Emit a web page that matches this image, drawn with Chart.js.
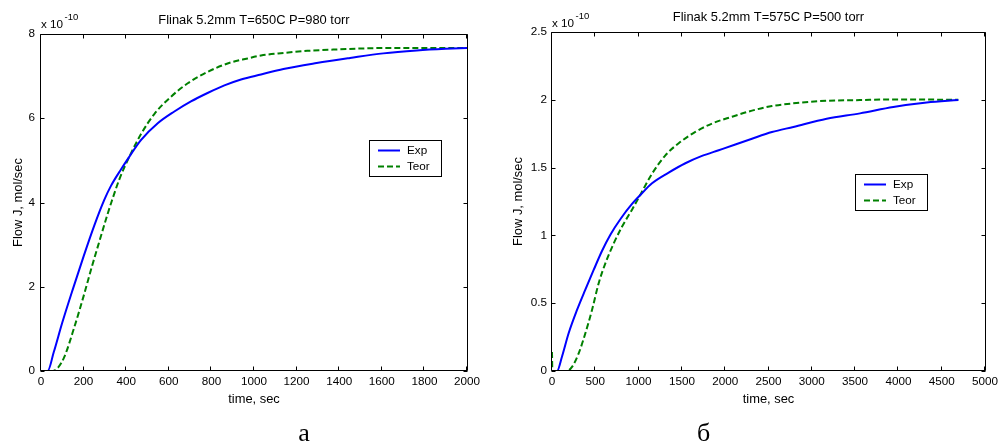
<!DOCTYPE html>
<html>
<head>
<meta charset="utf-8">
<script src="https://cdn.jsdelivr.net/npm/chart.js@4/dist/chart.umd.min.js"></script>
<style>
html,body{margin:0;padding:0;background:#fff;overflow:hidden;}
#wrap{position:relative;width:1001px;height:443px;}
canvas{position:absolute;top:0;}
#c1{left:0;}
#c2{left:500px;}
</style>
</head>
<body>
<div id="wrap">
<canvas id="c1" width="500" height="443"></canvas>
<canvas id="c2" width="501" height="443"></canvas>
</div>
<script>
// ---- Panel а : Flinak 5.2mm T=650C P=980 torr (flux in units of 1e-10 mol/sec)
const titleA = 'Flinak 5.2mm T=650C P=980 torr';
const timeExpA  = [0, 31, 60, 100, 150, 200, 250, 297, 329, 376, 415, 469, 548, 626, 704, 782, 861, 939, 1033, 1138, 1294, 1451, 1607, 1764, 1900, 2000];
const fluxExpA  = [0, 0, 0.45, 1.15, 1.95, 2.72, 3.45, 4.06, 4.40, 4.79, 5.09, 5.48, 5.88, 6.16, 6.40, 6.60, 6.78, 6.92, 7.04, 7.17, 7.31, 7.43, 7.54, 7.61, 7.65, 7.67];
const timeTeorA = [0, 55, 80, 110, 157, 199, 239, 276, 311, 332, 370, 415, 469, 532, 610, 689, 782, 876, 970, 1033, 1138, 1250, 1372, 1529, 1700, 2000];
const fluxTeorA = [0, 0, 0.08, 0.34, 1.05, 1.76, 2.48, 3.11, 3.70, 4.03, 4.58, 5.09, 5.62, 6.10, 6.51, 6.83, 7.10, 7.30, 7.42, 7.49, 7.55, 7.60, 7.63, 7.66, 7.67, 7.67];
const xTicksA = [0, 200, 400, 600, 800, 1000, 1200, 1400, 1600, 1800, 2000];
const yTicksA = [0, 2, 4, 6, 8];

// ---- Panel б : Flinak 5.2mm T=575C P=500 torr
const titleB = 'Flinak 5.2mm T=575C P=500 torr';
const timeExpB  = [0, 58, 115, 192, 289, 385, 481, 577, 674, 795, 924, 1020, 1155, 1347, 1540, 1732, 1925, 2117, 2309, 2540, 2787, 3172, 3557, 3941, 4327, 4692];
const fluxExpB  = [0, 0, 0.105, 0.278, 0.45, 0.6, 0.745, 0.885, 1.005, 1.125, 1.232, 1.298, 1.384, 1.463, 1.532, 1.586, 1.628, 1.67, 1.713, 1.762, 1.80, 1.86, 1.90, 1.947, 1.980, 1.998];
const timeTeorB = [0, 4, 173, 231, 308, 385, 462, 539, 616, 712, 808, 924, 1020, 1155, 1309, 1463, 1655, 1848, 2079, 2309, 2540, 2787, 3172, 3557, 3941, 4692];
const fluxTeorB = [0.14, 0, 0, 0.03, 0.13, 0.278, 0.45, 0.647, 0.794, 0.94, 1.064, 1.19, 1.30, 1.455, 1.59, 1.68, 1.763, 1.825, 1.875, 1.92, 1.954, 1.974, 1.993, 1.998, 2.003, 2.0];
const xTicksB = [0, 500, 1000, 1500, 2000, 2500, 3000, 3500, 4000, 4500, 5000];
const yTicksB = [0, 0.5, 1, 1.5, 2, 2.5];

const seriesNames = ['Exp', 'Teor'];
const xLabel = 'time, sec';
const yLabel = 'Flow J, mol/sec';
const expText = 'x 10';
const expSup = '-10';

const FAM = '"Liberation Sans", Arial, sans-serif';

function pts(t, v) { return t.map((x, i) => ({x: x, y: v[i]})); }

const matlabPlugin = {
  id: 'matlab',
  afterDraw(chart, args, o) {
    const ctx = chart.ctx;
    const a = chart.chartArea;
    const xs = chart.scales.x, ys = chart.scales.y;
    ctx.save();
    ctx.strokeStyle = '#000';
    ctx.lineWidth = 1;
    const L = Math.round(a.left) - 0.5, R = Math.round(a.right) + 0.5;
    const T = Math.round(a.top) + 0.5, B = Math.round(a.bottom) - 0.5;
    ctx.beginPath();
    ctx.rect(L, T, R - L, B - T);
    ctx.stroke();
    const tl = 4;
    ctx.beginPath();
    xs.ticks.forEach(tk => {
      const p = Math.round(xs.getPixelForValue(tk.value)) - 0.5;
      ctx.moveTo(p, B); ctx.lineTo(p, B - tl);
      ctx.moveTo(p, T); ctx.lineTo(p, T + tl);
    });
    ys.ticks.forEach(tk => {
      const p = Math.round(ys.getPixelForValue(tk.value)) + 0.5;
      ctx.moveTo(L, p); ctx.lineTo(L + tl, p);
      ctx.moveTo(R, p); ctx.lineTo(R - tl, p);
    });
    ctx.stroke();

    // title
    ctx.fillStyle = '#000';
    ctx.textAlign = 'center';
    ctx.textBaseline = 'alphabetic';
    ctx.font = '12.9px ' + FAM;
    ctx.fillText(o.title, (a.left + a.right) / 2, o.titleY);

    // exponent
    ctx.textAlign = 'left';
    ctx.font = '11.7px ' + FAM;
    ctx.fillText(expText, o.expX, o.expY);
    ctx.font = '9.5px ' + FAM;
    ctx.fillText(expSup, o.expX + 23.5, o.expY - 8);

    // legend
    const lg = o.legend;
    ctx.fillStyle = '#fff';
    ctx.fillRect(lg.x, lg.y, lg.w, lg.h);
    ctx.strokeStyle = '#000';
    ctx.lineWidth = 1;
    ctx.strokeRect(lg.x + 0.5, lg.y + 0.5, lg.w, lg.h);
    chart.data.datasets.forEach((ds, i) => {
      const yy = lg.y + 10.5 + i * 16;
      ctx.save();
      ctx.strokeStyle = ds.borderColor;
      ctx.lineWidth = ds.borderWidth;
      ctx.setLineDash(ds.borderDash || []);
      ctx.beginPath();
      ctx.moveTo(lg.x + 9, yy); ctx.lineTo(lg.x + 31, yy);
      ctx.stroke();
      ctx.restore();
      ctx.fillStyle = '#000';
      ctx.font = '11.7px ' + FAM;
      ctx.textAlign = 'left';
      ctx.textBaseline = 'middle';
      ctx.fillText(ds.label, lg.x + 38, yy);
    });

    // caption
    ctx.fillStyle = '#000';
    ctx.textAlign = 'center';
    ctx.textBaseline = 'alphabetic';
    ctx.font = '26px "Liberation Serif", "Times New Roman", serif';
    ctx.fillText(o.caption, o.capX, o.capY);
    ctx.restore();
  }
};

function makeChart(id, cfg) {
  const tickFont = {family: FAM, size: 11.7};
  const labFont = {family: FAM, size: 12.9};
  return new Chart(document.getElementById(id), {
    type: 'line',
    data: {
      datasets: [
        {label: seriesNames[0], data: pts(cfg.tE, cfg.vE), borderColor: '#0000ff', borderWidth: 2,
         pointRadius: 0, cubicInterpolationMode: 'monotone', fill: false},
        {label: seriesNames[1], data: pts(cfg.tT, cfg.vT), borderColor: '#008000', borderWidth: 2,
         borderDash: [6, 3], pointRadius: 0, cubicInterpolationMode: 'monotone', fill: false}
      ]
    },
    options: {
      responsive: false,
      animation: false,
      events: [],
      layout: {padding: cfg.pad},
      plugins: {
        legend: {display: false},
        tooltip: {enabled: false},
        matlab: cfg.deco
      },
      scales: {
        x: {
          type: 'linear', min: cfg.xt[0], max: cfg.xt[cfg.xt.length - 1],
          grid: {display: false, drawTicks: false}, border: {display: false},
          ticks: {autoSkip: false, maxRotation: 0, padding: 4, color: '#000', font: tickFont,
                  callback: v => String(v)},
          afterBuildTicks: s => { s.ticks = cfg.xt.map(v => ({value: v})); },
          afterFit: s => { s.height = 72; s.paddingLeft = 0; s.paddingRight = 0; },
          title: {display: true, text: xLabel, color: '#000', font: labFont, padding: {top: 0, bottom: 36.3}}
        },
        y: {
          type: 'linear', min: cfg.yt[0], max: cfg.yt[cfg.yt.length - 1],
          grid: {display: false, drawTicks: false}, border: {display: false},
          ticks: {autoSkip: false, padding: cfg.yPad, color: '#000', font: tickFont,
                  callback: v => String(v)},
          afterBuildTicks: s => { s.ticks = cfg.yt.map(v => ({value: v})); },
          afterFit: s => { s.width = cfg.yW; s.paddingTop = 0; s.paddingBottom = 0; },
          title: {display: true, text: yLabel, color: '#000', font: labFont, padding: {top: 10.3, bottom: 0}}
        }
      }
    },
    plugins: [matlabPlugin]
  });
}

makeChart('c1', {
  tE: timeExpA, vE: fluxExpA, tT: timeTeorA, vT: fluxTeorA, xt: xTicksA, yt: yTicksA,
  pad: {left: 0, top: 34, right: 33, bottom: 0}, yW: 41, yPad: 6,
  deco: {title: titleA, titleY: 24, expX: 41, expY: 28.3,
         legend: {x: 369, y: 140, w: 72, h: 36}, caption: 'а', capX: 304, capY: 441}
});
makeChart('c2', {
  tE: timeExpB, vE: fluxExpB, tT: timeTeorB, vT: fluxTeorB, xt: xTicksB, yt: yTicksB,
  pad: {left: 0, top: 32, right: 16, bottom: 0}, yW: 52, yPad: 5,
  deco: {title: titleB, titleY: 21, expX: 52, expY: 26.7,
         legend: {x: 355, y: 174, w: 72, h: 36}, caption: 'б', capX: 203.5, capY: 441}
});
</script>
</body>
</html>
